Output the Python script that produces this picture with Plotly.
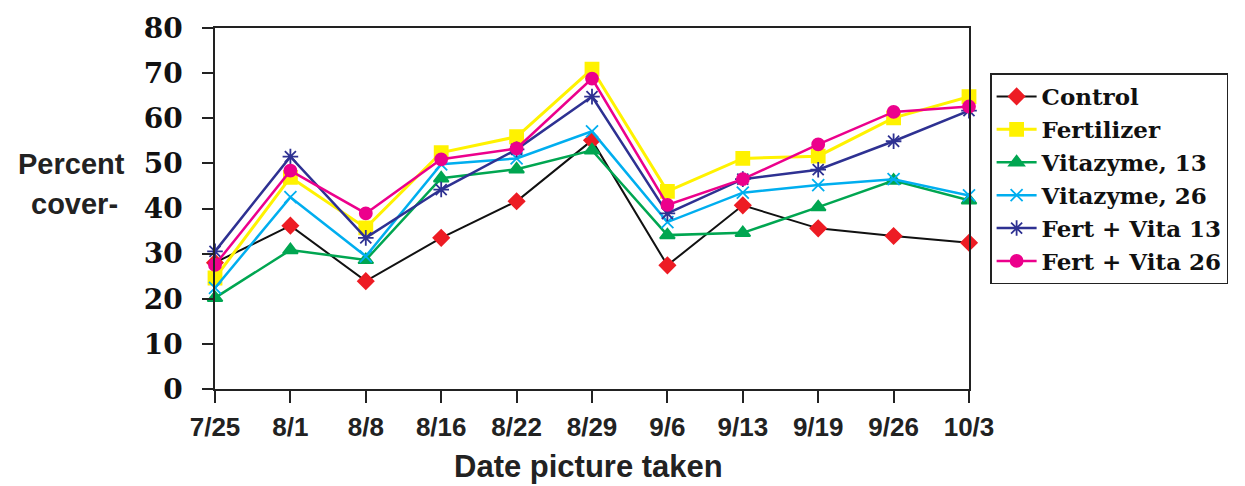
import plotly.graph_objects as go

dates = ["7/25", "8/1", "8/8", "8/16", "8/22", "8/29", "9/6", "9/13", "9/19", "9/26", "10/3"]

control = [28.0, 36.2, 23.9, 33.5, 41.6, 55.1, 27.4, 40.7, 35.6, 33.9, 32.4]
fertilizer = [24.6, 46.9, 35.7, 52.4, 55.9, 70.9, 43.8, 51.1, 51.6, 60.1, 64.8]
vitazyme13 = [20.2, 30.8, 28.6, 46.7, 48.7, 52.9, 34.1, 34.6, 40.3, 46.2, 41.8]
vitazyme26 = [22.4, 42.5, 29.4, 49.8, 51.1, 57.1, 37.0, 43.5, 45.2, 46.5, 42.9]
fert_vita13 = [30.5, 51.5, 33.5, 44.2, 53.1, 64.8, 38.9, 46.5, 48.6, 54.9, 61.7]
fert_vita26 = [27.5, 48.4, 38.9, 50.9, 53.3, 68.8, 40.8, 46.5, 54.2, 61.4, 62.6]

y_ticks = [0, 10, 20, 30, 40, 50, 60, 70, 80]

series = [
    ("Control", control, "#111111", "#ED1C24", "diamond", 12, 2),
    ("Fertilizer", fertilizer, "#FFF200", "#FFF200", "square", 13, 3),
    ("Vitazyme, 13", vitazyme13, "#00A651", "#00A651", "triangle-up", 13, 2.5),
    ("Vitazyme, 26", vitazyme26, "#00AEEF", "#00AEEF", "x-thin-open", 12, 2.5),
    ("Fert + Vita 13", fert_vita13, "#2E3192", "#2E3192", "asterisk-open", 13, 2.5),
    ("Fert + Vita 26", fert_vita26, "#EC008C", "#EC008C", "circle", 12, 2.5),
]

fig = go.Figure()
x_idx = list(range(len(dates)))
for name, vals, lc, mc, sym, ms, lw in series:
    fig.add_trace(go.Scatter(
        x=x_idx, y=vals, name=name, mode="lines+markers",
        line=dict(color=lc, width=lw),
        marker=dict(symbol=sym, size=ms, color=mc, line=dict(color=mc, width=1.8)),
        cliponaxis=False,
    ))

fig.update_layout(
    width=1245, height=486,
    margin=dict(l=215, r=276, t=24, b=97),
    paper_bgcolor="white", plot_bgcolor="white",
    showlegend=True,
    legend=dict(
        x=1.028, y=(389 - 70) / 365, xanchor="left", yanchor="top",
        font=dict(family="DejaVu Serif", size=23, color="#111111", weight="bold"),
        bordercolor="#222222", borderwidth=1.5,
        bgcolor="white", tracegroupgap=0, itemwidth=40,
    ),
    xaxis=dict(
        tickmode="array", tickvals=x_idx, ticktext=dates,
        range=[0, len(dates) - 1],
        showline=True, linecolor="#222222", linewidth=1.5, mirror=True,
        ticks="outside", ticklen=12, tickwidth=1.5, tickcolor="#222222",
        tickfont=dict(family="Liberation Sans", size=26, color="#222222", weight="bold"),
        showgrid=False, zeroline=False,
        ticklabelstandoff=2,
    ),
    yaxis=dict(
        range=[0, 80], tickvals=y_ticks,
        showline=True, linecolor="#222222", linewidth=1.5, mirror=True,
        ticks="outside", ticklen=11, tickwidth=1.5, tickcolor="#222222",
        tickfont=dict(family="DejaVu Serif", size=28, color="#111111", weight="bold"),
        showgrid=False, zeroline=False,
        ticklabelstandoff=14,
    ),
    annotations=[
        dict(text="<b>Percent</b>", xref="paper", yref="paper",
             x=(71 - 215) / 754, y=(389 - 162) / 365, xanchor="center", yanchor="middle",
             showarrow=False, font=dict(family="Liberation Sans", size=29, color="#222222")),
        dict(text="<b>cover-</b>", xref="paper", yref="paper",
             x=(74 - 215) / 754, y=(389 - 202) / 365, xanchor="center", yanchor="middle",
             showarrow=False, font=dict(family="Liberation Sans", size=29, color="#222222")),
        dict(text="<b>Date picture taken</b>", xref="paper", yref="paper",
             x=(588 - 215) / 754, y=(389 - 467) / 365, xanchor="center", yanchor="middle",
             showarrow=False, font=dict(family="Liberation Sans", size=31, color="#222222")),
    ],
)

fig.write_html("out.html")
